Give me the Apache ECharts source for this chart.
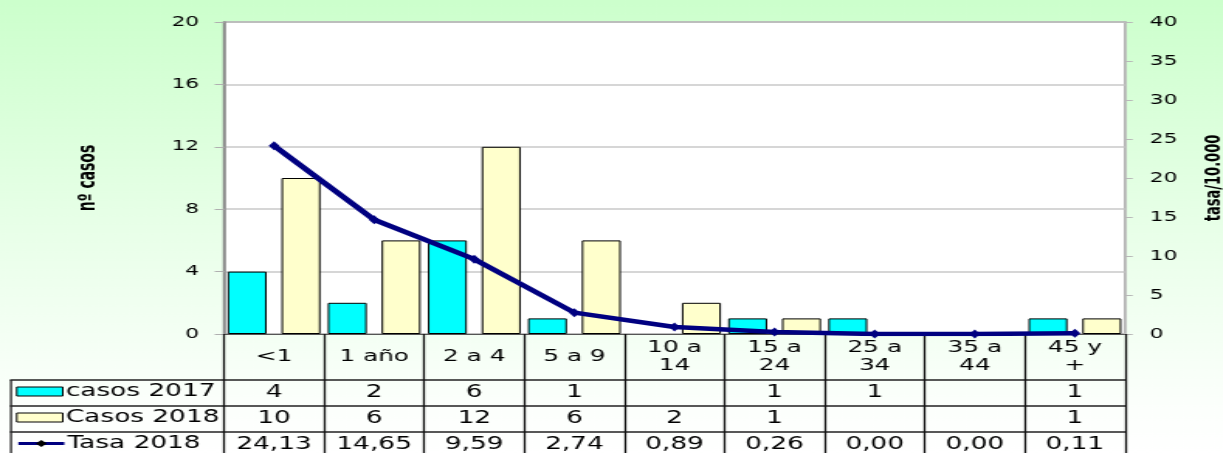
<!DOCTYPE html>
<html>
<head>
<meta charset="utf-8">
<script src="https://cdn.jsdelivr.net/npm/echarts@6/dist/echarts.min.js"></script>
<style>
  html, body { margin: 0; padding: 0; overflow: hidden; background: #ffffff; }
  #wrap { width: 1223px; height: 453px; overflow: hidden; }
  /* the chart is laid out narrow and widened horizontally, giving the broad lettering */
  #chart { width: 789px; height: 453px; transform: scaleX(1.55); transform-origin: 0 0; }
</style>
</head>
<body>
<div id="wrap"><div id="chart"></div></div>
<script>
// age groups (tick labels of the table header)
const categories = ['<1', '1 año', '2 a 4', '5 a 9', '10 a\n14', '15 a\n24', '25 a\n34', '35 a\n44', '45 y\n+'];
// cases per age group
const casos2017 = [4, 2, 6, 1, null, 1, 1, null, 1];
const casos2018 = [10, 6, 12, 6, 2, 1, null, null, 1];
// rate per 10.000
const tasa2018 = [24.13, 14.65, 9.59, 2.74, 0.89, 0.26, 0.00, 0.00, 0.11];
const leftTicks = { min: 0, max: 20, interval: 4 };
const rightTicks = { min: 0, max: 40, interval: 5 };
const seriesNames = ['casos 2017', 'Casos 2018', 'Tasa 2018'];

const SX = 1.55;                 // horizontal widening factor
const px = v => v / SX;          // screen x -> layout x
const FONT = "'DejaVu Sans', Verdana, sans-serif";
const NAMEFONT = "'DejaVu Sans Condensed', 'DejaVu Sans', sans-serif";

const plotTop = 22, plotBottom = 334;
const headerH = 46, rowH = 26;
const plotLeft = px(224), plotRight = px(1125), W = 1223 / SX;

const fmtCount = v => (v === null || v === undefined) ? '' : String(v);
const fmtRate = v => v.toFixed(2).replace('.', ',');

const rows = [
  casos2017.map(fmtCount),
  casos2018.map(fmtCount),
  tasa2018.map(fmtRate)
];

// one category axis per table row: its line, boundary ticks and labels form the row
const rowAxes = rows.map((labels, i) => ({
  type: 'category',
  gridIndex: 0,
  position: 'bottom',
  offset: headerH + i * rowH,
  data: labels,
  axisLine: { show: true, onZero: false, lineStyle: { color: '#222', width: 1.5 } },
  axisTick: { show: true, interval: 0, length: rowH, lineStyle: { color: '#111', width: 1.3 } },
  axisLabel: { interval: 0, margin: rowH / 2, verticalAlign: 'middle', color: '#000', fontFamily: FONT, fontSize: 17 },
  splitLine: { show: false }
}));

const legends = seriesNames.map((name, i) => ({
  data: [name],
  left: px(16),
  top: plotBottom + headerH + i * rowH + rowH / 2 - 10,
  padding: 0,
  orient: 'horizontal',
  selectedMode: false,
  itemWidth: px(46),
  itemHeight: 9,
  icon: i < 2 ? 'rect' : undefined,
  itemStyle: i < 2 ? { borderColor: '#000', borderWidth: 1 } : undefined,
  lineStyle: i === 2 ? { width: 3, color: '#000080' } : undefined,
  textStyle: { color: '#000', fontFamily: FONT, fontSize: 17, padding: [0, 0, 0, -3] }
}));

// borders of the legend column beside the table
const tableBorders = [];
for (let i = 0; i < 3; i++) {
  const y = plotBottom + headerH + i * rowH;
  tableBorders.push({ type: 'line', shape: { x1: px(10), y1: y, x2: plotLeft, y2: y }, style: { stroke: '#222', lineWidth: 1.5 } });
}
tableBorders.push({ type: 'line', shape: { x1: px(11), y1: plotBottom + headerH, x2: px(11), y2: 460 }, style: { stroke: '#222', lineWidth: 1.3 } });

const chart = echarts.init(document.getElementById('chart'), null, { renderer: 'canvas' });
chart.setOption({
  animation: false,
  backgroundColor: {
    type: 'linear', x: 0, y: 0, x2: 0, y2: 1,
    colorStops: [
      { offset: 0, color: '#ccffcc' },
      { offset: 0.5, color: '#e8ffe8' },
      { offset: 0.9, color: '#fcfffc' },
      { offset: 1, color: '#ffffff' }
    ]
  },
  grid: {
    left: plotLeft, right: W - plotRight, top: plotTop, bottom: 453 - plotBottom,
    show: true, backgroundColor: '#ffffff', borderColor: '#808080', borderWidth: 1.5,
    containLabel: false, outerBoundsMode: 'none'
  },
  legend: legends,
  xAxis: [
    {
      type: 'category',
      gridIndex: 0,
      position: 'bottom',
      data: categories,
      axisLine: { show: true, onZero: false, lineStyle: { color: '#555', width: 1.2 } },
      axisTick: { show: true, interval: 0, length: headerH, lineStyle: { color: '#111', width: 1.3 } },
      axisLabel: { interval: 0, margin: headerH / 2, verticalAlign: 'middle', color: '#000', fontFamily: FONT, fontSize: 16, lineHeight: 18 },
      splitLine: { show: false }
    },
    ...rowAxes
  ],
  yAxis: [
    {
      type: 'value', position: 'left',
      min: leftTicks.min, max: leftTicks.max, interval: leftTicks.interval,
      name: 'nº casos', nameLocation: 'middle', nameRotate: 90, nameGap: 80,
      nameTextStyle: { fontFamily: NAMEFONT, fontWeight: 'bold', fontSize: 15.5, color: '#000' },
      axisLine: { show: true, lineStyle: { color: '#8c8c8c', width: 1.5 } },
      axisTick: { show: true, length: 6, lineStyle: { color: '#b0b0b0' } },
      axisLabel: { margin: 16, color: '#000', fontFamily: FONT, fontSize: 14 },
      splitLine: { show: true, lineStyle: { color: '#c8c8c8', width: 1.5 } }
    },
    {
      type: 'value', position: 'right',
      min: rightTicks.min, max: rightTicks.max, interval: rightTicks.interval,
      name: 'tasa/10.000', nameLocation: 'middle', nameRotate: 90, nameGap: 50,
      nameTextStyle: { fontFamily: NAMEFONT, fontWeight: 'bold', fontSize: 14.5, color: '#000' },
      axisLine: { show: true, lineStyle: { color: '#c4c4c4', width: 1.5 } },
      axisTick: { show: true, length: 5, inside: false, lineStyle: { color: '#b8b8b8' } },
      axisLabel: { margin: 16, color: '#000', fontFamily: FONT, fontSize: 14 },
      splitLine: { show: false }
    }
  ],
  series: [
    {
      name: seriesNames[0], type: 'bar', xAxisIndex: 0, yAxisIndex: 0,
      data: casos2017, barWidth: px(39), barGap: '38%',
      itemStyle: { color: '#00ffff', borderColor: '#000', borderWidth: 1 }
    },
    {
      name: seriesNames[1], type: 'bar', xAxisIndex: 0, yAxisIndex: 0,
      data: casos2018, barWidth: px(39), barGap: '38%',
      itemStyle: { color: '#ffffcc', borderColor: '#000', borderWidth: 1 }
    },
    {
      name: seriesNames[2], type: 'line', xAxisIndex: 0, yAxisIndex: 1,
      data: tasa2018, symbol: 'diamond', symbolSize: [7, 9], showSymbol: true,
      lineStyle: { color: '#000080', width: 4.5 },
      itemStyle: { color: '#000080' },
      z: 5
    }
  ],
  graphic: tableBorders
});
</script>
</body>
</html>
